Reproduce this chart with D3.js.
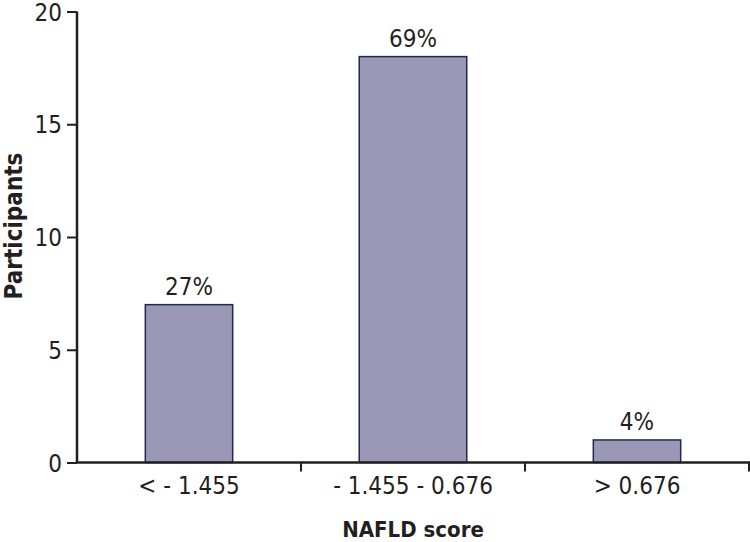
<!DOCTYPE html>
<html>
<head>
<meta charset="utf-8">
<script src="https://cdn.jsdelivr.net/npm/d3@7"></script>
<style>
  body { margin: 0; background: #fff; }
  svg { display: block; }
  text { font-family: "Liberation Sans Narrow", "DejaVu Sans Condensed", sans-serif; fill: #231f20; }
</style>
</head>
<body>
<svg id="chart" width="750" height="542"></svg>
<script>
const categories = ["< - 1.455", "- 1.455 - 0.676", "> 0.676"];
const participants = [7, 18, 1];
const percentLabels = ["27%", "69%", "4%"];
const yTicks = [0, 5, 10, 15, 20];

// bar widths as fraction of band (middle bar is drawn wider in original)
const barFrac = [0.39, 0.48, 0.39];

const svg = d3.select("#chart");
const x = d3.scaleBand().domain(categories).range([77, 749]);
const y = d3.scaleLinear().domain([0, 20]).range([462.5, 11.5]);

// bars
svg.selectAll("rect.bar")
  .data(participants)
  .enter()
  .append("rect")
  .attr("class", "bar")
  .attr("x", (d, i) => x(categories[i]) + x.bandwidth() * (1 - barFrac[i]) / 2)
  .attr("width", (d, i) => x.bandwidth() * barFrac[i])
  .attr("y", d => y(d))
  .attr("height", d => y(0) - y(d))
  .style("fill", "#9a98b6")
  .style("stroke", "#1c2b4c")
  .style("stroke-width", 1.5);

// percent labels
svg.selectAll("text.pct")
  .data(participants)
  .enter()
  .append("text")
  .attr("class", "pct")
  .attr("x", (d, i) => x(categories[i]) + x.bandwidth() / 2)
  .attr("y", d => y(d) - 10)
  .attr("text-anchor", "middle")
  .style("font-size", "24px")
  .text((d, i) => percentLabels[i]);

// y axis
const yAxis = svg.append("g")
  .attr("transform", "translate(77,0)")
  .call(d3.axisLeft(y).tickValues(yTicks).tickSize(10).tickPadding(5));
yAxis.select(".domain").attr("stroke", "#231f20").attr("stroke-width", 2.5).attr("d", `M0,${y(20)}V${y(0)}`);
yAxis.selectAll(".tick line").attr("stroke", "#231f20").attr("stroke-width", 2);
yAxis.selectAll(".tick text")
  .style("font-size", "24px")
  .style("font-family", null)
  .attr("dy", "0.36em");

// x axis
const xAxis = svg.append("g")
  .attr("transform", `translate(0,${y(0)})`)
  .call(d3.axisBottom(x).tickSize(0).tickPadding(14));
xAxis.select(".domain").attr("stroke", "#231f20").attr("stroke-width", 2.5).attr("d", "M76,0H750");
xAxis.selectAll(".tick text")
  .style("font-size", "24px")
  .style("font-family", null)
  .attr("dy", "0.71em");

// category boundary ticks
xAxis.selectAll("line.sep")
  .data(categories)
  .enter()
  .append("line")
  .attr("class", "sep")
  .attr("x1", d => x(d) + x.bandwidth())
  .attr("x2", d => x(d) + x.bandwidth())
  .attr("y1", 0)
  .attr("y2", 9)
  .attr("stroke", "#231f20")
  .attr("stroke-width", 2);

// titles
svg.append("text")
  .attr("transform", "translate(22,226) rotate(-90)")
  .attr("text-anchor", "middle")
  .style("font-size", "24px")
  .style("font-weight", "bold")
  .text("Participants");

svg.append("text")
  .attr("x", 413)
  .attr("y", 537)
  .attr("text-anchor", "middle")
  .style("font-size", "22px")
  .style("font-weight", "bold")
  .text("NAFLD score");
</script>
</body>
</html>
